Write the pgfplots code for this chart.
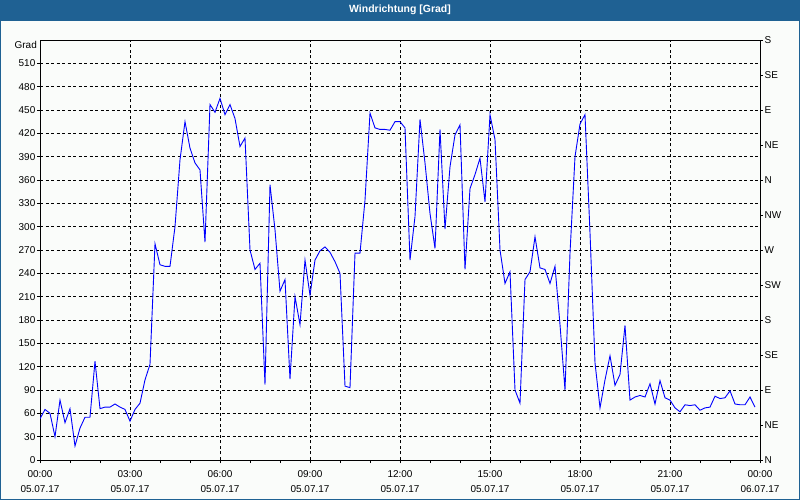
\documentclass[border=0pt]{standalone}
\usepackage{pgfplots}
\pgfplotsset{compat=1.18}
\usepackage{pgfplotstable}
\usepackage{fontspec}
\setmainfont{Liberation Sans}
\definecolor{titlebar}{RGB}{31,97,147}
\definecolor{bgc}{RGB}{250,252,250}

\pgfplotstableread{
m d
0 53
10 65
20 60
30 30
40 77
50 48
60 66
70 18
80 41
90 55
100 55
110 127
120 66
130 68
140 68
150 72
160 68
170 65
180 50
190 65
200 73
210 103
220 123
230 278
240 251
250 249
260 249
270 300
280 386
290 435
300 401
310 382
320 373
330 280
340 457
350 447
360 465
370 444
380 457
390 439
400 403
410 414
420 270
430 245
440 253
450 97
460 354
470 296
480 217
490 232
500 104
510 210
520 174
530 257
540 212
550 257
560 269
570 274
580 267
590 255
600 240
610 95
620 93
630 266
640 266
650 334
660 446
670 427
680 425
690 425
700 424
710 435
720 435
730 427
740 257
750 313
760 438
770 382
780 317
790 272
800 425
810 297
820 377
830 418
840 431
850 245
860 349
870 367
880 388
890 332
900 444
910 412
920 270
930 227
940 242
950 90
960 73
970 232
980 242
990 287
1000 247
1010 245
1020 227
1030 249
1040 174
1050 90
1060 266
1070 390
1080 432
1090 444
1100 292
1110 125
1120 67
1130 103
1140 134
1150 96
1160 110
1170 173
1180 77
1190 81
1200 83
1210 81
1220 98
1230 72
1240 102
1250 80
1260 77
1270 67
1280 62
1290 71
1300 70
1310 71
1320 64
1330 67
1340 68
1350 82
1360 79
1370 80
1380 89
1390 72
1400 71
1410 71
1420 81
1430 68
}\winddata

\pgfplotsset{
  basestyle/.style={
    at={(40bp,40bp)}, anchor=south west,
    scale only axis, width=720bp, height=420bp,
    xmin=0, xmax=1440, ymin=0, ymax=540,
    tick align=outside, major tick length=3bp, minor tick length=3bp,
    tick style={black, line width=0.8bp},
    axis line style={black, line width=0.8bp},
    ticklabel style={font=\fontsize{10}{12}\selectfont},
    /pgf/number format/assume math mode=true,
  }
}

\begin{document}
\begin{tikzpicture}
\fill[titlebar] (0bp,0bp) rectangle (800bp,500bp);
\fill[bgc] (1bp,1bp) rectangle (799bp,479bp);
\node[white, font=\bfseries\fontsize{10.5}{12}\selectfont] at (400bp,490bp) {Windrichtung [Grad]};
\node[anchor=east, inner sep=0pt, font=\fontsize{10}{12}\selectfont] at (37bp,455bp) {Grad};
\begin{axis}[basestyle,
  xtick={0,180,...,1440},
  minor xtick={0,60,...,1440},
  xticklabels={{00:00\\05.07.17},{03:00\\05.07.17},{06:00\\05.07.17},{09:00\\05.07.17},{12:00\\05.07.17},{15:00\\05.07.17},{18:00\\05.07.17},{21:00\\05.07.17},{00:00\\06.07.17}},
  xticklabel style={align=center, font=\fontsize{10}{15.5}\selectfont, inner sep=2bp, yshift=-5bp},
  ytick={0,30,...,510},
  yticklabel style={inner sep=1.5bp},
  xtick pos=bottom, ytick pos=left,
  grid=major,
  major grid style={black, line width=0.8bp, dash pattern=on 3bp off 2.5bp},
]
\addplot[blue, line width=0.9bp] table[x=m, y=d] {\winddata};
\end{axis}
\begin{axis}[basestyle,
  axis y line*=right, axis x line=none,
  ytick={0,45,...,540},
  yticklabels={N,NE,E,SE,S,SW,W,NW,N,NE,E,SE,S},
  yticklabel style={inner sep=1.5bp},
]
\addplot[draw=none] coordinates {(0,0)};
\end{axis}
\pgfresetboundingbox
\path (0bp,0bp) rectangle (800bp,500bp);
\end{tikzpicture}
\end{document}
